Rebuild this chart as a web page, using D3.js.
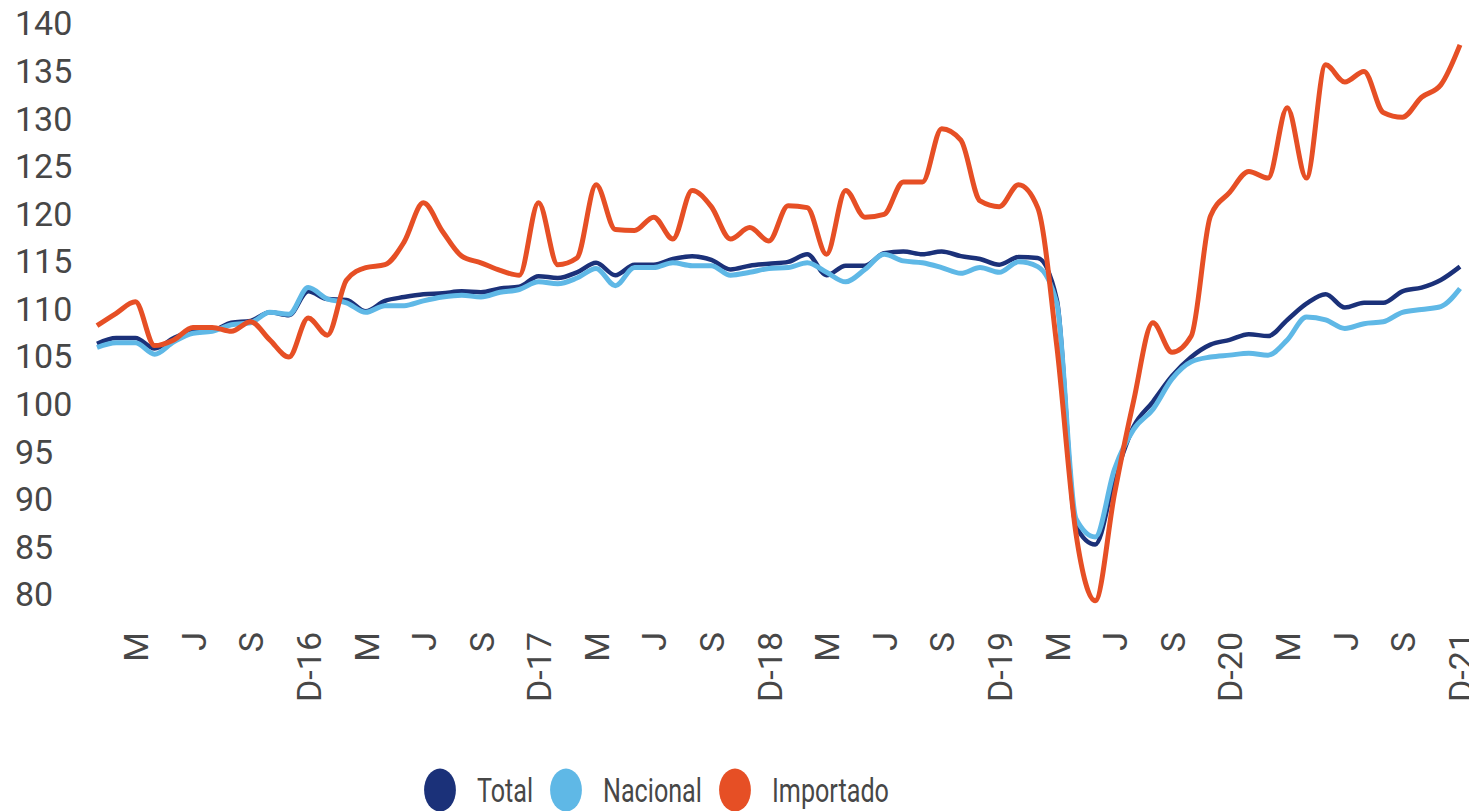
<!DOCTYPE html>
<html>
<head>
<meta charset="utf-8">
<script src="https://cdn.jsdelivr.net/npm/d3@7"></script>
<style>
  body { margin: 0; background: #fff; }
  svg { display: block; font-family: Roboto, "Noto Sans", sans-serif; }
  .axis text { fill: #474747; font-size: 34px; font-family: Roboto, "Noto Sans", sans-serif; }
</style>
</head>
<body>
<div class="root"></div>
<script>
// monthly index, Jan 2016 .. Dec 2021
const total = [
  106.3, 106.9, 106.9, 105.8, 106.9, 107.6, 107.7, 108.5, 108.7, 109.6, 109.3, 111.8,
  111.0, 110.9, 109.7, 110.8, 111.2, 111.5, 111.6, 111.8, 111.7, 112.1, 112.3, 113.4,
  113.2, 113.8, 114.8, 113.5, 114.6, 114.6, 115.2, 115.5, 115.1, 114.1, 114.5, 114.7,
  114.9, 115.7, 113.5, 114.5, 114.5, 115.8, 116.0, 115.7, 116.0, 115.5, 115.2, 114.6,
  115.4, 115.3, 110.9, 87.1, 85.2, 92.1, 97.6, 100.2, 102.9, 104.9, 106.2, 106.7,
  107.3, 107.1, 108.8, 110.5, 111.5, 110.1, 110.6, 110.6, 111.8, 112.2, 113.0, 114.4
];
const nacional = [
  105.9, 106.4, 106.4, 105.2, 106.5, 107.4, 107.6, 108.3, 108.5, 109.6, 109.4, 112.2,
  111.0, 110.6, 109.6, 110.3, 110.3, 110.8, 111.2, 111.4, 111.2, 111.7, 112.0, 112.8,
  112.6, 113.2, 114.2, 112.4, 114.3, 114.3, 114.8, 114.5, 114.5, 113.5, 113.8, 114.2,
  114.3, 114.8, 113.8, 112.8, 114.1, 115.7, 115.0, 114.8, 114.3, 113.7, 114.3, 113.8,
  114.9, 114.4, 110.5, 87.9, 86.0, 93.1, 97.3, 99.4, 102.6, 104.4, 104.9, 105.1,
  105.3, 105.1, 106.7, 109.1, 108.8, 107.9, 108.4, 108.6, 109.6, 109.9, 110.2, 112.1
];
const importado = [
  108.2, 109.5, 110.7, 106.1, 106.7, 108.0, 108.0, 107.6, 108.6, 106.7, 104.9, 109.0,
  107.2, 113.0, 114.3, 114.6, 117.0, 121.1, 118.1, 115.5, 114.8, 114.0, 113.5, 121.1,
  114.6, 115.3, 123.0, 118.3, 118.2, 119.6, 117.3, 122.4, 120.7, 117.3, 118.5, 117.1,
  120.8, 120.6, 115.7, 122.4, 119.6, 119.9, 123.3, 123.3, 128.9, 127.7, 121.3, 120.7,
  123.0, 120.6, 106.0, 86.3, 79.3, 90.5, 100.3, 108.5, 105.4, 107.1, 119.7, 122.2,
  124.4, 123.7, 131.1, 123.7, 135.6, 133.8, 134.9, 130.6, 130.1, 132.2, 133.5, 137.7
];
const tickLabels = [
  'M', 'J', 'S', 'D-16', 'M', 'J', 'S', 'D-17', 'M', 'J', 'S', 'D-18',
  'M', 'J', 'S', 'D-19', 'M', 'J', 'S', 'D-20', 'M', 'J', 'S', 'D-21'
];
const seriesNames = ['Total', 'Nacional', 'Importado'];
const colors = ['#1b3179', '#5fb8e6', '#e64f25'];

const svgWidth = 1469;
const svgHeight = 811;

const svg = d3.select('.root')
  .append('svg')
  .attr('width', svgWidth)
  .attr('height', svgHeight);

const x = d3.scaleLinear().domain([0, total.length - 1]).range([97, 1460]);
const y = d3.scaleLinear().domain([80, 140]).range([594, 23]);

// y axis, labels left aligned
const yAxis = svg.append('g')
  .attr('class', 'axis')
  .attr('transform', 'translate(15,0)')
  .call(d3.axisLeft(y).tickValues(d3.range(80, 141, 5)).tickSize(0).tickPadding(0));
yAxis.select('.domain').remove();
yAxis.selectAll('text')
  .attr('text-anchor', 'start')
  .attr('x', 0)
  .attr('dy', '0.35em');

// x axis, every third month, rotated
const tickIdx = tickLabels.map((_, k) => 2 + 3 * k);
const xAxis = svg.append('g')
  .attr('class', 'axis')
  .attr('transform', 'translate(0,632)')
  .call(d3.axisBottom(x).tickValues(tickIdx).tickFormat((d, k) => tickLabels[k]).tickSize(0));
xAxis.select('.domain').remove();
xAxis.selectAll('text')
  .attr('text-anchor', 'end')
  .attr('x', 0)
  .attr('y', 0)
  .attr('dy', '0.36em')
  .attr('transform', 'rotate(-90)');

const line = d3.line()
  .curve(d3.curveMonotoneX)
  .x((d, i) => x(i))
  .y(d => y(d));

const series = [total, nacional, importado];
const widths = [4.5, 5, 5];

svg.selectAll('.line')
  .data(series)
  .enter()
  .append('path')
  .attr('class', 'line')
  .attr('d', d => line(d))
  .attr('fill', 'none')
  .attr('stroke', (d, i) => colors[i])
  .attr('stroke-width', (d, i) => widths[i])
  .attr('stroke-linejoin', 'round');

// legend (squeezed horizontally like the source)
const legendX = [440, 566, 735];
const item = svg.selectAll('.legend')
  .data(seriesNames)
  .enter()
  .append('g')
  .attr('class', 'legend')
  .attr('transform', (d, i) => `translate(${legendX[i]},790) scale(0.74,1)`);

item.append('circle')
  .attr('r', 21.5)
  .attr('fill', (d, i) => colors[i]);

item.append('text')
  .attr('x', 50)
  .attr('y', 12)
  .attr('fill', '#474747')
  .style('font-size', '34px')
  .text(d => d);
</script>
</body>
</html>
